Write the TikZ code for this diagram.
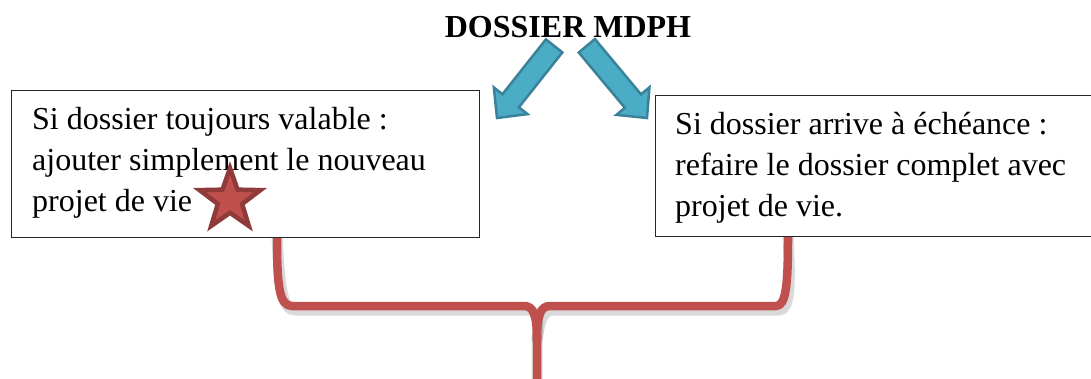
\documentclass[tikz,border=0pt]{standalone}
\usepackage{fontspec}
\setmainfont{Liberation Serif}
\usetikzlibrary{shapes.geometric,calc}
\definecolor{bracered}{HTML}{C0504D}
\definecolor{stardark}{HTML}{8E3B39}
\definecolor{arrowfill}{HTML}{4BACC6}
\definecolor{arrowedge}{HTML}{3A8299}
\tikzset{
  boxframe/.style={draw=black!85, line width=1.3pt, fill=white, inner sep=0pt, anchor=north west},
  bodytext/.style={inner sep=0pt, align=left, anchor=base west, font=\fontsize{32}{41}\selectfont},
  titletext/.style={inner sep=0pt, anchor=base, font=\fontsize{32}{38}\selectfont\bfseries},
  blockarrow/.style={fill=arrowfill, draw=arrowedge, line width=2.5pt, line join=miter},
  bracestroke/.style={draw=bracered, line width=8.5pt, line cap=round, line join=round},
  braceshadow/.style={draw=black, opacity=0.15, line width=11pt, line cap=round, line join=round},
  redstar/.style={star, star points=5, star point ratio=2.5, minimum size=64pt, inner sep=0pt,
    fill=bracered, draw=stardark, line width=4.5pt}
}
\begin{document}
\begin{tikzpicture}[x=1pt,y=1pt]
\useasboundingbox (0,0) rectangle (1091,-379);
% brace (drawn under the boxes)
\coordinate (bl) at (277,-237);
\coordinate (br) at (788,-237);
\coordinate (bc) at (537,-340);
\coordinate (bend) at (537,-395);
\begin{scope}[shift={(3,-4)}]
\path[braceshadow] (bl) .. controls (277,-285) and (279,-306) .. (292,-306) -- (524,-306)
  .. controls (533,-306) and (537,-314) .. (bc) -- (bend);
\path[braceshadow] (bc) .. controls (537,-314) and (541,-306) .. (550,-306) -- (776,-306)
  .. controls (786,-306) and (788,-285) .. (br);
\end{scope}
\path[bracestroke] (bl) .. controls (277,-285) and (279,-306) .. (292,-306) -- (524,-306)
  .. controls (533,-306) and (537,-314) .. (bc) -- (bend);
\path[bracestroke] (bc) .. controls (537,-314) and (541,-306) .. (550,-306) -- (776,-306)
  .. controls (786,-306) and (788,-285) .. (br);
% boxes
\node[boxframe, minimum width=468pt, minimum height=147pt] (lb) at (11,-90) {};
\node[boxframe, minimum width=440pt, minimum height=141pt] (rb) at (655,-95) {};
\node[bodytext] (lt) at (32,-212) {Si dossier toujours valable :\\ajouter simplement le nouveau\\projet de vie};
\node[bodytext] (rt) at (675,-217) {Si dossier arrive à échéance :\\refaire le dossier complet avec\\projet de vie.};
% star
\node[redstar] (st) at (230,-200) {};
% title
\node[titletext] (title) at (568,-38) {DOSSIER MDPH};
% block arrows
\begin{scope}[shift={(497,-118)}, rotate=231.6]
\path[blockarrow] (0,0) -- (-22,21.5) -- (-22,10.5) -- (-92,10.5) -- (-92,-10.5) -- (-22,-10.5) -- (-22,-21.5) -- cycle;
\end{scope}
\begin{scope}[shift={(647,-118)}, rotate=-50.2]
\path[blockarrow] (0,0) -- (-22,21.5) -- (-22,10.5) -- (-94,10.5) -- (-94,-10.5) -- (-22,-10.5) -- (-22,-21.5) -- cycle;
\end{scope}
\end{tikzpicture}
\end{document}
